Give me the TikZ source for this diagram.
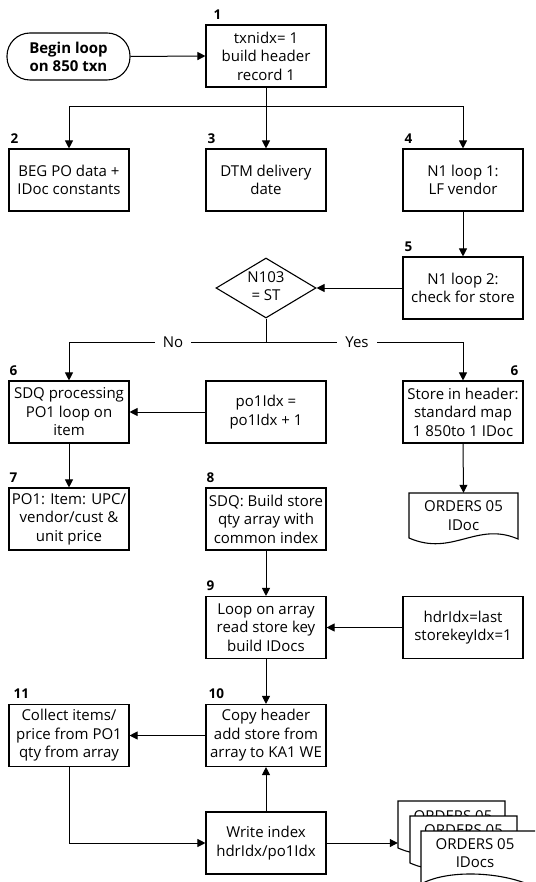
\documentclass[tikz,border=0pt]{standalone}
\usepackage{fontspec}
\setmainfont{Open Sans}
\usetikzlibrary{arrows.meta,shapes.geometric,calc}
\newcommand\mydoc[4]{\draw[docst] (#1,#2) -- ({#1+#3},#2) -- ({#1+#3},{#2+#4+1}) .. controls ({#1+0.62*#3},{#2+#4-17}) and ({#1+0.4*#3},{#2+#4+19}) .. (#1,{#2+#4}) -- cycle;}
\begin{document}
\begin{tikzpicture}[x=1pt,y=-1pt,
  txt/.style={font=\fontsize{15}{18.5}\selectfont},
  box/.style={txt,draw,line width=1.1pt,minimum width=120pt,minimum height=62pt,align=center,inner sep=1pt},
  num/.style={font=\bfseries\fontsize{13.5}{13.5}\selectfont,inner sep=0pt,anchor=south west},
  arr/.style={line width=1pt,-{Triangle[length=8pt,width=8pt]}},
  ln/.style={line width=1pt},
  docst/.style={draw,fill=white,line width=1.1pt},
  lbl/.style={txt,fill=white,inner xsep=8pt,inner ysep=2pt}]
\useasboundingbox (0,0) rectangle (535,882);
\clip (0,0) rectangle (535,882);
\fill[white] (0,0) rectangle (535,882);

% nodes
\node[txt,draw,line width=1.1pt,rounded corners=23pt,minimum width=123pt,minimum height=47pt,align=center,font=\bfseries\fontsize{15}{18}\selectfont] (start) at (68.5,56.5) {Begin loop\\on 850 txn};
\node[box] (b1) at (266,56) {txnidx= 1\\build header\\record 1};
\node[box] (b2) at (69,180) {BEG PO data +\\IDoc constants};
\node[box] (b3) at (266,180) {DTM delivery\\date};
\node[box] (b4) at (463,180) {N1 loop 1:\\LF vendor};
\node[box] (b5) at (463,288) {N1 loop 2:\\check for store};
\node[diamond,draw,line width=1.1pt,minimum width=100pt,minimum height=60pt,inner sep=0pt] (dia) at (266,288) {};
\node[txt,align=center] (diatext) at (266,286) {N103\\= ST};
\node[box] (b6l) at (69,412) {SDQ processing\\PO1 loop on\\item};
\node[box] (po1) at (266,412) {po1Idx =\\po1Idx + 1};
\node[box] (b6r) at (463,412) {Store in header:\\standard map\\1 850to 1 IDoc};
\node[box] (b7) at (69,519) {PO1: Item: UPC/\\vendor/cust \&\\unit price};
\node[box] (b8) at (266,519) {SDQ: Build store\\qty array with\\common index};
\node[box] (b9) at (266,627.5) {Loop on array\\read store key\\build IDocs};
\node[box] (hdr) at (463,627.5) {hdrIdx=last\\storekeyIdx=1};
\node[box] (b10) at (266,735.5) {Copy header\\add store from\\array to KA1 WE};
\node[box] (b11) at (69,735.5) {Collect items/\\price from PO1\\qty from array};
\node[box] (wr) at (266,843) {Write index\\hdrIdx/po1Idx};

% single document
\mydoc{409}{493}{109}{45}
\node[txt,align=center,minimum width=109pt,minimum height=45pt,inner sep=0pt] (idoc) at (463.5,515.5) {ORDERS 05\\IDoc};

% multiple documents
\mydoc{398}{801}{107}{47}
\node[txt,inner sep=0pt,anchor=base] at (453,821) {ORDERS 05};
\node[minimum width=107pt,minimum height=47pt,inner sep=0pt] (mdoc) at (451.5,824.5) {};
\mydoc{410}{816}{107}{47}
\node[txt,inner sep=0pt,anchor=base] at (463.5,835) {ORDERS 05};
\draw[docst] (421,831) -- (540,831) -- (540,890) .. controls (510,872) and (450,868) .. (421,884) -- cycle;
\node[txt,inner sep=0pt,anchor=base] (d3a) at (475,849) {ORDERS 05};
\node[txt,inner sep=0pt,anchor=base] (d3b) at (475,867) {IDocs};

% step numbers
\node[num] at ($(b1.north west)+(8,-5)$) {1};
\node[num] at ($(b2.north west)+(2,-5)$) {2};
\node[num] at ($(b3.north west)+(2,-5)$) {3};
\node[num] at ($(b4.north west)+(2,-5)$) {4};
\node[num] at ($(b5.north west)+(2,-5)$) {5};
\node[num] at ($(b6l.north west)+(1,-5)$) {6};
\node[num,anchor=south east] at ($(b6r.north east)+(-5,-5)$) {6};
\node[num] at ($(b7.north west)+(1,-5)$) {7};
\node[num] at ($(b8.north west)+(1,-5)$) {8};
\node[num] at ($(b9.north west)+(1,-5)$) {9};
\node[num] at ($(b10.north west)+(3,-5)$) {10};
\node[num] at ($(b11.north west)+(5,-5)$) {11};

% connectors
\coordinate (j1) at (266,107);
\coordinate (j2) at (266,342);
\draw[arr] (start.east) -- (b1.west);
\draw[arr] (b1.south) -- (b3.north);
\draw[arr] (j1) -| (b2.north);
\draw[arr] (j1) -| (b4.north);
\draw[arr] (b4.south) -- (b5.north);
\draw[arr] (b5.west) -- (dia.east);
\draw[ln] (dia.south) -- (j2);
\draw[arr] (j2) -| (b6l.north);
\draw[arr] (j2) -| (b6r.north);
\node[lbl] (no) at (173,342) {No};
\node[lbl] (yes) at (357,342) {Yes};
\draw[arr] (po1.west) -- (b6l.east);
\draw[arr] (b6l.south) -- (b7.north);
\draw[arr] (b6r.south) -- (idoc.north);
\draw[arr] (b8.south) -- (b9.north);
\draw[arr] (hdr.west) -- (b9.east);
\draw[arr] (b9.south) -- (b10.north);
\draw[arr] (b10.west) -- (b11.east);
\draw[arr] (b11.south) |- (wr.west);
\draw[arr] (wr.north) -- (b10.south);
\draw[arr] (wr.east) -- (wr.east -| mdoc.west);
\end{tikzpicture}
\end{document}
